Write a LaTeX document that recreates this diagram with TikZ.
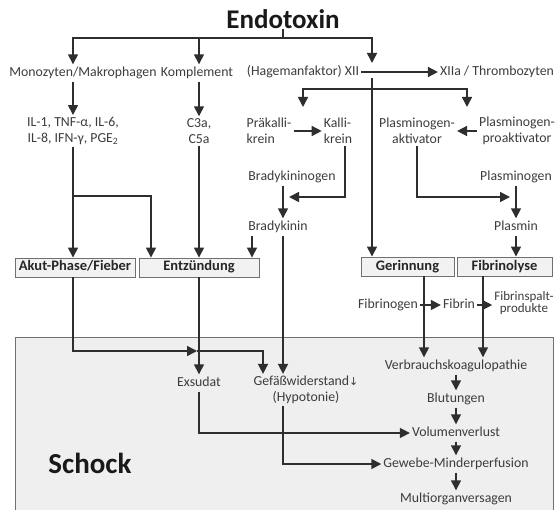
\documentclass[tikz,border=0pt]{standalone}
\usepackage{fontspec}
\setmainfont{Carlito}
\newfontfamily\djv{DejaVu Sans}
\usetikzlibrary{arrows.meta}
\definecolor{txt}{HTML}{3C3C3C}
\definecolor{ln}{HTML}{2E2E2E}
\definecolor{boxfill}{HTML}{F2F2F2}
\definecolor{boxedge}{HTML}{707070}
\definecolor{shockfill}{HTML}{EFEFEF}
\begin{document}
\begin{tikzpicture}[x=1pt,y=-1pt,
  lbl/.style={font=\fontsize{13.8}{16}\selectfont, text=txt, inner sep=2pt, text height=10pt, text depth=3pt},
  lbl2/.style={font=\fontsize{13.8}{16}\selectfont, text=txt, inner sep=2pt, align=center},
  boxed/.style={draw=boxedge, fill=boxfill, line width=0.9pt, font=\bfseries\fontsize{14.5}{16}\selectfont, text=black!85, minimum height=19pt, inner sep=0pt, text height=10pt, text depth=3pt},
  arr/.style={draw=ln, line width=1.5pt, -{Triangle[length=10pt,width=10pt]}},
  arrtwo/.style={draw=ln, line width=1.5pt, {Triangle[length=10pt,width=10pt]}-{Triangle[length=10pt,width=10pt]}},
  con/.style={draw=ln, line width=1.5pt},
]
\useasboundingbox (0,0) rectangle (556,510);
% Schock area
\fill[shockfill] (15,337) rectangle (553,510);
\draw[boxedge, line width=0.9pt] (15,510) -- (15,337) -- (553,337) -- (553,510);

\node[font=\bfseries\fontsize{27}{30}\selectfont, text=black!90, inner sep=0pt] (endo) at (283,19) {Endotoxin};
\coordinate (bar) at (283,38);

\node[lbl] (mono) at (83,73) {Monozyten/Makrophagen};
\node[lbl] (kompl) at (197,73) {Komplement};
\node[lbl] (hage) at (303,72) {(Hagemanfaktor) XII};
\node[lbl] (xiia) at (497,72) {XIIa / Thrombozyten};
\coordinate (xiiN) at (372,63);
\coordinate (xiiS) at (372,78);
\coordinate (br2) at (372,89);

\node[lbl2] (il) at (73,131) {IL-1, TNF-α, IL-6,\\IL-8, IFN-γ, PGE\textsubscript{2}};
\node[lbl2] (c3) at (199,131) {C3a,\\C5a};
\node[lbl2, align=left] (praek) at (269,131) {Präkalli-\\krein};
\node[lbl2, align=left] (kalli) at (338,131) {Kalli-\\krein};
\node[lbl2] (plakt) at (417,131) {Plasminogen-\\aktivator};
\node[lbl2] (plpro) at (517,131) {Plasminogen-\\proaktivator};
\coordinate (cat1) at (303,107);
\coordinate (cat2) at (467,107);

\node[lbl] (bkgen) at (292,177) {Bradykininogen};
\node[lbl] (plgen) at (516,177) {Plasminogen};
\coordinate (cat3) at (289,197);
\coordinate (cat4) at (510,197);
\node[lbl] (bk) at (278,227) {Bradykinin};
\node[lbl] (plasmin) at (516,227) {Plasmin};

\node[boxed, minimum width=120pt] (akut) at (75,267.5) {Akut-Phase/Fieber};
\node[boxed, minimum width=120pt] (entz) at (199,267.5) {Entzündung};
\node[boxed, minimum width=93pt] (ger) at (407.5,266.5) {Gerinnung};
\node[boxed, minimum width=95pt] (fib) at (504.5,266.5) {Fibrinolyse};

\node[lbl] (fgen) at (388,305) {Fibrinogen};
\node[lbl] (fibrin) at (459,305) {Fibrin};
\node[lbl2, font=\fontsize{13}{12}\selectfont] (fsp) at (524,303) {Fibrinspalt-\\produkte};

\node[font=\bfseries\fontsize{29}{32}\selectfont, text=black!90, inner sep=0pt] (schock) at (90,463) {Schock};
\node[lbl] (exs) at (199,383) {Exsudat};
\node[lbl2] (gef) at (306,390) {Gefäßwiderstand{\djv\fontsize{11}{12}\selectfont ↓}\\(Hypotonie)};
\node[lbl] (vkp) at (456,366) {Verbrauchskoagulopathie};
\node[lbl] (blut) at (456,399) {Blutungen};
\node[lbl] (vol) at (456,433) {Volumenverlust};
\node[lbl] (gew) at (456,464) {Gewebe-Minderperfusion};
\node[lbl] (mov) at (456,499) {Multiorganversagen};

% connectors
\draw[con] (endo.south) -- (bar);
\draw[arr] (bar) -| (mono.north -| il);
\draw[arr] (bar) -| (kompl.north -| c3);
\draw[arr] (bar) -| (xiiN);
\draw[arr] (hage.east) -- (xiia.west);
\draw[arr] (mono.south -| il) -- (il.north);
\draw[arr] (kompl.south -| c3) -- (c3.north);
\draw[arr] (xiiS) -- (ger.north -| xiiS);
\draw[arrtwo] (cat1) |- (br2) -| (cat2);
\draw[arr] (praek.east) -- (kalli.west);
\draw[arr] (plpro.west) -- (plakt.east);
\draw[arr] ([xshift=7pt]kalli.south) |- (cat3);
\draw[arr] (plakt.south) |- (cat4);
\draw[arr] ([xshift=-9pt]bkgen.south) -- ([xshift=5pt]bk.north);
\draw[arr] (plgen) -- (plasmin);
\draw[arr] (plasmin) -- (fib.north -| plasmin);
\draw[arr] (il.south) -- (akut.north -| il);
\coordinate (br3) at (73,196);
\coordinate (xA) at (151,196);
\draw[arr] (br3) -| (entz.north -| xA);
\draw[arr] (c3.south) -- (entz.north -| c3);
\coordinate (xB) at (252,240);
\draw[arr] (bk.south -| xB) -- (entz.north -| xB);
\coordinate (xC) at (283,240);
\draw[arr] (bk.south -| xC) -- (gef.north -| xC);
\coordinate (tipE) at (197,351);
\coordinate (xD) at (263,351);
\draw[arr] (akut.south -| il) |- (tipE);
\draw[arr] (tipE) -| (gef.north -| xD);
\draw[arr] (entz.south) -- (exs.north);
\draw[arr] (exs.south) |- (vol.west);
\draw[arr] (gef.south -| xC) |- (gew.west);
\coordinate (xE) at (424,0);
\coordinate (xF) at (483,0);
\draw[arr] (ger.south -| xE) -- (vkp.north -| xE);
\draw[arr] (fib.south -| xF) -- (vkp.north -| xF);
\draw[arr] (fgen) -- (fibrin);
\draw[arr] (fibrin) -- (fsp.west |- fibrin);
\draw[arr] (vkp) -- (blut);
\draw[arr] (blut) -- (vol);
\draw[arr] (vol) -- (gew);
\draw[arr] (gew) -- (mov);
\end{tikzpicture}
\end{document}
